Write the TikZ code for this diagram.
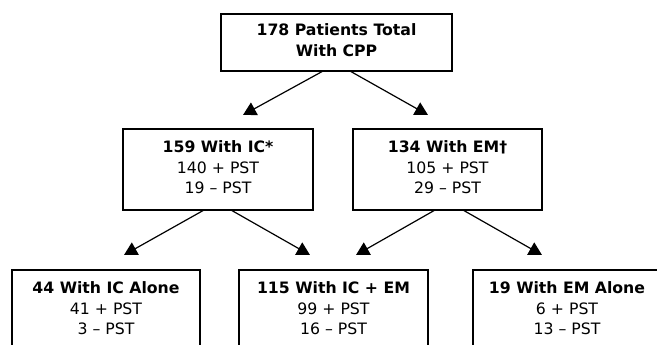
\documentclass[tikz,border=0pt]{standalone}
\usepackage{fontspec}
\usetikzlibrary{arrows.meta}
\setmainfont{DejaVu Sans}
\begin{document}
\begin{tikzpicture}[x=1pt,y=-1pt,
  box/.style={draw=black,line width=1.2pt,rectangle,align=center,inner sep=0pt,
    minimum height=81pt,text depth=4pt,
    font=\fontsize{15.7}{20.5}\selectfont},
  arr/.style={draw=black,line width=1.2pt,-{Triangle[length=13pt,width=14pt]}}]
\useasboundingbox (0,0) rectangle (657,345);
\clip (0,0) rectangle (657,345);
% boxes
\node[box,minimum width=231pt,minimum height=57pt,font=\fontsize{15.7}{21}\selectfont\bfseries] (top) at (336.5,42.5) {178 Patients Total\\With CPP};
\node[box,minimum width=190pt] (ic) at (218,169.5) {\textbf{159 With IC*}\\140 + PST\\19 -- PST};
\node[box,minimum width=189pt] (em) at (447.5,169.5) {\textbf{134 With EM†}\\105 + PST\\29 -- PST};
\node[box,minimum width=188pt] (ica) at (106,310.5) {\textbf{44 With IC Alone}\\41 + PST\\3 -- PST};
\node[box,minimum width=189pt] (both) at (333.5,310.5) {\textbf{115 With IC + EM}\\99 + PST\\16 -- PST};
\node[box,minimum width=188pt] (ema) at (567,310.5) {\textbf{19 With EM Alone}\\6 + PST\\13 -- PST};
% free arrow ends
\coordinate (t1) at (243,115);
\coordinate (t2) at (428,115);
\coordinate (t3) at (124,255);
\coordinate (t4) at (310,255);
\coordinate (t5) at (356,255);
\coordinate (t6) at (542,255);
% connectors
\draw[arr] ([xshift=-14.5pt]top.south) -- (t1);
\draw[arr] ([xshift=14.5pt]top.south) -- (t2);
\draw[arr] ([xshift=-15pt]ic.south) -- (t3);
\draw[arr] ([xshift=14pt]ic.south) -- (t4);
\draw[arr] ([xshift=-13.5pt]em.south) -- (t5);
\draw[arr] ([xshift=16.5pt]em.south) -- (t6);
\end{tikzpicture}
\end{document}
